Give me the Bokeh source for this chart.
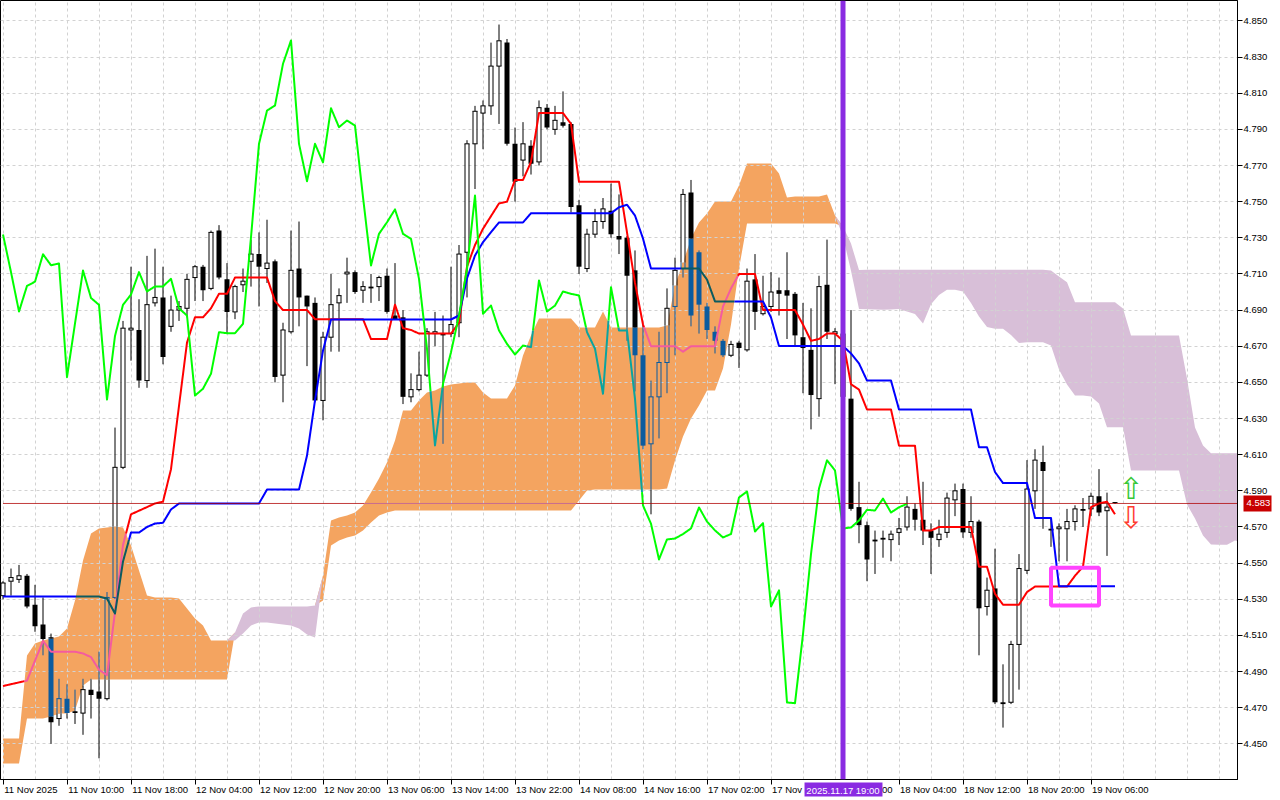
import numpy as np
from bokeh.plotting import figure
from bokeh.models import FixedTicker, NumeralTickFormatter, Range1d, Span, LinearAxis
from bokeh.embed import file_html
from bokeh.resources import INLINE
from bokeh.core.properties import value

# ---------------- data (H1 bars, index 0 = 11 Nov 2025 00:00) ----------------
time_labels = ["11 Nov 2025", "11 Nov 10:00", "11 Nov 18:00", "12 Nov 04:00", "12 Nov 12:00",
               "12 Nov 20:00", "13 Nov 06:00", "13 Nov 14:00", "13 Nov 22:00", "14 Nov 08:00",
               "14 Nov 16:00", "17 Nov 02:00", "17 Nov 10:00", "17 Nov 18:00", "18 Nov 04:00",
               "18 Nov 12:00", "18 Nov 20:00", "19 Nov 06:00"]
label_bars = [0, 8, 16, 24, 32, 40, 48, 56, 64, 72, 80, 88, 96, 104, 112, 120, 128, 136]
price_ticks = [4.45, 4.47, 4.49, 4.51, 4.53, 4.55, 4.57, 4.59, 4.61, 4.63, 4.65,
               4.67, 4.69, 4.71, 4.73, 4.75, 4.77, 4.79, 4.81, 4.83, 4.85]

open_ = [4.532, 4.540, 4.541, 4.543, 4.527, 4.516, 4.509, 4.464, 4.475, 4.468,
         4.467, 4.480, 4.479, 4.475, 4.531, 4.603, 4.679, 4.679, 4.651, 4.694,
         4.697, 4.681, 4.690, 4.691, 4.708, 4.714, 4.702, 4.734, 4.707, 4.689,
         4.704, 4.717, 4.721, 4.713, 4.717, 4.654, 4.678, 4.713, 4.698, 4.694,
         4.640, 4.675, 4.694, 4.710, 4.711, 4.701, 4.703, 4.703, 4.709, 4.687,
         4.686, 4.642, 4.646, 4.654, 4.677, 4.677, 4.677, 4.683, 4.722, 4.782,
         4.799, 4.803, 4.825, 4.838, 4.782, 4.773, 4.781, 4.772, 4.802, 4.790,
         4.794, 4.793, 4.748, 4.713, 4.732, 4.739, 4.745, 4.731, 4.730, 4.712,
         4.665, 4.616, 4.642, 4.661, 4.692, 4.713, 4.755, 4.722, 4.692, 4.678,
         4.673, 4.665, 4.672, 4.668, 4.707, 4.688, 4.692, 4.701, 4.701, 4.699,
         4.675, 4.668, 4.641, 4.704, 4.677, 4.677, 4.641, 4.581, 4.571, 4.563,
         4.564, 4.563, 4.567, 4.570, 4.580, 4.574, 4.568, 4.563, 4.567, 4.585,
         4.591, 4.567, 4.573, 4.526, 4.536, 4.473, 4.473, 4.505, 4.546, 4.590,
         4.606, 4.569, 4.569, 4.569, 4.573, 4.580, 4.580, 4.587, 4.579, 4.5835]
high = [4.540, 4.547, 4.549, 4.544, 4.538, 4.531, 4.511, 4.486, 4.483, 4.480,
        4.486, 4.486, 4.501, 4.534, 4.625, 4.684, 4.714, 4.696, 4.720, 4.724,
        4.714, 4.698, 4.695, 4.710, 4.715, 4.715, 4.734, 4.737, 4.716, 4.704,
        4.713, 4.729, 4.733, 4.740, 4.718, 4.683, 4.734, 4.739, 4.698, 4.697,
        4.678, 4.710, 4.702, 4.719, 4.712, 4.706, 4.710, 4.709, 4.713, 4.716,
        4.690, 4.655, 4.667, 4.680, 4.689, 4.687, 4.714, 4.726, 4.784, 4.803,
        4.806, 4.838, 4.848, 4.840, 4.791, 4.794, 4.784, 4.806, 4.804, 4.803,
        4.811, 4.794, 4.751, 4.735, 4.746, 4.752, 4.760, 4.754, 4.731, 4.723,
        4.682, 4.651, 4.678, 4.702, 4.719, 4.757, 4.762, 4.723, 4.694, 4.681,
        4.674, 4.673, 4.673, 4.713, 4.721, 4.709, 4.711, 4.708, 4.722, 4.700,
        4.694, 4.691, 4.709, 4.729, 4.680, 4.688, 4.690, 4.595, 4.573, 4.568,
        4.568, 4.568, 4.575, 4.587, 4.583, 4.595, 4.572, 4.574, 4.589, 4.594,
        4.594, 4.587, 4.574, 4.542, 4.558, 4.494, 4.507, 4.555, 4.607, 4.613,
        4.615, 4.575, 4.572, 4.580, 4.582, 4.586, 4.589, 4.602, 4.589, 4.5838]
low = [4.530, 4.532, 4.539, 4.525, 4.512, 4.499, 4.450, 4.460, 4.464, 4.461,
       4.455, 4.464, 4.442, 4.474, 4.530, 4.602, 4.662, 4.647, 4.647, 4.692,
       4.660, 4.678, 4.684, 4.686, 4.695, 4.695, 4.701, 4.707, 4.677, 4.685,
       4.700, 4.703, 4.692, 4.705, 4.650, 4.639, 4.677, 4.681, 4.659, 4.639,
       4.629, 4.667, 4.667, 4.694, 4.699, 4.694, 4.694, 4.695, 4.688, 4.685,
       4.638, 4.639, 4.645, 4.653, 4.670, 4.616, 4.675, 4.675, 4.697, 4.757,
       4.779, 4.798, 4.793, 4.781, 4.750, 4.764, 4.765, 4.770, 4.790, 4.787,
       4.791, 4.744, 4.710, 4.711, 4.730, 4.735, 4.730, 4.721, 4.673, 4.645,
       4.613, 4.577, 4.619, 4.644, 4.665, 4.708, 4.681, 4.677, 4.674, 4.666,
       4.664, 4.664, 4.658, 4.667, 4.679, 4.687, 4.689, 4.687, 4.674, 4.670,
       4.644, 4.624, 4.631, 4.674, 4.649, 4.640, 4.579, 4.561, 4.540, 4.544,
       4.553, 4.551, 4.560, 4.568, 4.568, 4.560, 4.544, 4.559, 4.564, 4.576,
       4.564, 4.564, 4.499, 4.521, 4.472, 4.459, 4.472, 4.480, 4.544, 4.580,
       4.569, 4.559, 4.551, 4.551, 4.568, 4.570, 4.576, 4.576, 4.554, 4.5828]
close = [4.539, 4.542, 4.543, 4.526, 4.515, 4.508, 4.462, 4.475, 4.467, 4.467,
         4.480, 4.477, 4.475, 4.531, 4.603, 4.680, 4.680, 4.651, 4.693, 4.697,
         4.664, 4.690, 4.692, 4.707, 4.714, 4.701, 4.733, 4.708, 4.689, 4.703,
         4.706, 4.721, 4.714, 4.716, 4.653, 4.679, 4.712, 4.697, 4.692, 4.640,
         4.675, 4.693, 4.698, 4.711, 4.700, 4.703, 4.702, 4.708, 4.689, 4.685,
         4.642, 4.646, 4.654, 4.678, 4.678, 4.676, 4.682, 4.721, 4.782, 4.800,
         4.803, 4.825, 4.839, 4.782, 4.761, 4.782, 4.771, 4.802, 4.791, 4.795,
         4.792, 4.747, 4.714, 4.732, 4.739, 4.746, 4.732, 4.729, 4.709, 4.665,
         4.615, 4.642, 4.661, 4.691, 4.712, 4.754, 4.687, 4.693, 4.679, 4.673,
         4.665, 4.671, 4.669, 4.706, 4.689, 4.692, 4.700, 4.699, 4.698, 4.676,
         4.669, 4.643, 4.703, 4.678, 4.678, 4.642, 4.580, 4.571, 4.552, 4.562,
         4.563, 4.566, 4.569, 4.581, 4.574, 4.568, 4.564, 4.566, 4.586, 4.590,
         4.567, 4.573, 4.525, 4.535, 4.473, 4.472, 4.505, 4.547, 4.591, 4.607,
         4.601, 4.568, 4.570, 4.573, 4.580, 4.579, 4.587, 4.578, 4.581, 4.583]

tenkan = [4.482, 4.483, 4.484, 4.485, 4.496, 4.507, 4.501, 4.501, 4.501, 4.501,
          4.500, 4.498, 4.491, 4.488, 4.523, 4.560, 4.577, 4.579, 4.581, 4.583,
          4.584, 4.602, 4.637, 4.672, 4.686, 4.686, 4.691, 4.699, 4.699, 4.708,
          4.708, 4.708, 4.708, 4.708, 4.695, 4.690, 4.690, 4.690, 4.690, 4.685,
          4.685, 4.685, 4.685, 4.685, 4.685, 4.685, 4.674, 4.674, 4.674, 4.693,
          4.680, 4.679, 4.677, 4.677, 4.677, 4.677, 4.677, 4.683, 4.714, 4.726,
          4.735, 4.742, 4.749, 4.750, 4.762, 4.762, 4.772, 4.799, 4.799, 4.799,
          4.799, 4.793, 4.761, 4.761, 4.761, 4.761, 4.761, 4.761, 4.733, 4.705,
          4.682, 4.670, 4.670, 4.670, 4.670, 4.667, 4.670, 4.670, 4.670, 4.670,
          4.692, 4.702, 4.710, 4.710, 4.710, 4.690, 4.690, 4.690, 4.690, 4.690,
          4.682, 4.673, 4.674, 4.677, 4.677, 4.673, 4.649, 4.646, 4.635, 4.635,
          4.635, 4.635, 4.615, 4.615, 4.615, 4.568, 4.568, 4.570, 4.570, 4.570,
          4.570, 4.570, 4.548, 4.548, 4.533, 4.527, 4.527, 4.527, 4.534, 4.537,
          4.537, 4.537, 4.537, 4.537, 4.543, 4.548, 4.581, 4.583, 4.584, 4.577]
kijun = ([4.5315] * 13 + [4.5304, 4.5221, 4.5509, 4.5669, 4.5669, 4.5700, 4.5719, 4.5723, 4.5797]
         + [4.5830] * 11 + [4.5907] * 5 + [4.6095, 4.6400, 4.6676] + [4.6848] * 16
         + [4.6870, 4.7075, 4.7202, 4.7276, 4.7331] + [4.7385] * 4 + [4.7436] * 11
         + [4.7469, 4.7483, 4.7423, 4.7296] + [4.7130] * 7 + [4.7069] + [4.6948] * 7
         + [4.6859] + [4.6701] * 9 + [4.6660, 4.6605] + [4.6510] * 4 + [4.6350] * 10
         + [4.6141] * 2 + [4.6004] + [4.5943] * 4 + [4.5750] * 3 + [4.5372] * 8)
chikou = [4.7318, 4.7110, 4.6892, 4.7034, 4.7057, 4.7209, 4.7148, 4.7158, 4.6529, 4.6826,
          4.7119, 4.6967, 4.6929, 4.6405, 4.6757, 4.6929, 4.6986, 4.7110, 4.7003, 4.7031,
          4.7031, 4.7073, 4.6909, 4.6870, 4.6427, 4.6465, 4.6548, 4.6778, 4.6772, 4.6772,
          4.6824, 4.7303, 4.7820, 4.8004, 4.8032, 4.8263, 4.8392, 4.7820, 4.7613, 4.7820,
          4.7717, 4.8017, 4.7912, 4.7949, 4.7921, 4.7525, 4.7147, 4.7322, 4.7386, 4.7457,
          4.7322, 4.7294, 4.7073, 4.6686, 4.6151, 4.6492, 4.6667, 4.6870, 4.7128, 4.7534,
          4.6880, 4.6925, 4.6787, 4.6713, 4.6654, 4.6704, 4.6695, 4.7064, 4.6892, 4.6925,
          4.7003, 4.6990, 4.6981, 4.6778, 4.6686, 4.6437, 4.7027, 4.6787, 4.6787, 4.6409,
          4.5819, 4.5718, 4.5520, 4.5631, 4.5636, 4.5661, 4.5692, 4.5808, 4.5730, 4.5681,
          4.5642, 4.5661, 4.5863, 4.5896, 4.5675, 4.5721, 4.5260, 4.5349, 4.4729, 4.4725,
          4.5107, 4.5550, 4.5913, 4.6069, 4.6013, 4.5692, 4.5697, 4.5736, 4.5795, 4.5791,
          4.5857, 4.5780, 4.5809, 4.5828]
span_a = ([4.4530] * 3 + [4.4989, 4.5055, 4.5072, 4.5083, 4.5094, 4.5138, 4.5293, 4.5515, 4.5664,
          4.5692, 4.5697, 4.5703, 4.5697, 4.5598, 4.5459, 4.5321, 4.5310, 4.5310, 4.5310, 4.5304,
          4.5249, 4.5194, 4.5155, 4.5072, 4.5072, 4.5072,
          4.5072, 4.5111, 4.5155, 4.5172, 4.5172, 4.5166, 4.5161, 4.5155, 4.5138, 4.5105, 4.5088,
          4.5432, 4.5736, 4.5752, 4.5763, 4.5780, 4.5819, 4.5891, 4.5968, 4.6057, 4.6179,
          4.6345, 4.6345, 4.6400, 4.6444, 4.6455, 4.6477, 4.6488, 4.6494, 4.6499, 4.6499,
          4.6444, 4.6411, 4.6411, 4.6411, 4.6483, 4.6649, 4.6760, 4.6854, 4.6854, 4.6854,
          4.6854, 4.6854, 4.6804, 4.6804, 4.6804, 4.6892, 4.6804, 4.6804, 4.6804, 4.6804,
          4.6804, 4.6804, 4.6804, 4.6815, 4.7036, 4.7163, 4.7296, 4.7385, 4.7434, 4.7501,
          4.7501, 4.7501, 4.7589, 4.7711, 4.7711, 4.7711, 4.7711, 4.7656, 4.7523, 4.7529,
          4.7529, 4.7529, 4.7529, 4.7540, 4.7423,
          4.7307, 4.7117, 4.6906, 4.6905, 4.6903, 4.6902, 4.6903, 4.6906, 4.6892, 4.6878,
          4.6826, 4.6932, 4.6984, 4.7012, 4.7012, 4.7003, 4.6939, 4.6865, 4.6807, 4.6797,
          4.6797, 4.6762, 4.6718, 4.6722, 4.6722, 4.6722, 4.6704, 4.6571, 4.6488, 4.6427,
          4.6427, 4.6422, 4.6383, 4.6252, 4.6252, 4.6252]
          + [4.6013] * 7 + [4.5824, 4.5747, 4.5653, 4.5603, 4.5601, 4.5601, 4.5625, 4.5614])
span_b = ([4.4391] * 3 + [4.4640, 4.4640, 4.4640, 4.4651, 4.4668, 4.4668, 4.4685, 4.4823]
          + [4.4856] * 18
          + [4.5116, 4.5221, 4.5255, 4.5260, 4.5260, 4.5260, 4.5260, 4.5260, 4.5260, 4.5260, 4.5266]
          + [4.5293, 4.5598, 4.5625, 4.5642, 4.5653, 4.5681, 4.5725, 4.5763, 4.5780]
          + [4.5791] * 23
          + [4.5847, 4.5902] + [4.5907] * 9
          + [4.5913, 4.6068, 4.6201, 4.6300, 4.6372, 4.6455, 4.6455, 4.6577, 4.6820, 4.7130]
          + [4.7379] * 12
          + [4.7363, 4.7268, 4.7122] + [4.7123] * 23 + [4.7119, 4.7086, 4.7054]
          + [4.6944] * 6 + [4.6909] + [4.6760] * 7 + [4.6522, 4.6250, 4.6151] + [4.6108] * 5)

last_price = 4.583
last_price_text = "4.583"
event_bar = 105
event_label = "2025.11.17 19:00"
box_left, box_right, box_top, box_bottom = 131, 137, 4.5475, 4.5266
arrow_bars = [141, 141]
arrow_prices = [4.5913, 4.5755]
arrow_glyphs = ["\u21e7", "\u21e9"]
arrow_colors = ["#37c837", "#ff3b2f"]

# ---------------- styling ----------------
CLOUD_UP = "#f4a460"
CLOUD_DN = "#d8bfd8"
INK = "black"
INK_IN = "#0b5b9f"
FONT = "Liberation Sans"
FSIZE = 9.5

FW, FH = 1237, 779
PX_PRICE = 0.4266 / 771          # price units per screen pixel
PX_BAR = 1 / 8.0                 # bars per screen pixel
X0 = -0.3125
X1 = X0 + FW * PX_BAR
Y1 = 4.8613
Y0 = Y1 - FH * PX_PRICE

p = figure(frame_width=FW, frame_height=FH, x_range=Range1d(X0, X1), y_range=Range1d(Y0, Y1),
           y_axis_location="right", output_backend="svg", toolbar_location=None,
           min_border_left=0, min_border_top=0, min_border_right=0, min_border_bottom=0,
           background_fill_color="white", border_fill_color="white")
p.outline_line_color = "black"

# price axis (right)
p.yaxis.ticker = FixedTicker(ticks=price_ticks)
p.yaxis.formatter = NumeralTickFormatter(format="0.000")
p.yaxis.major_label_text_font = FONT
p.yaxis.major_label_text_font_size = f"{FSIZE}px"
p.yaxis.major_label_text_color = "black"
p.yaxis.major_tick_out = 5
p.yaxis.major_tick_in = 0
p.yaxis.minor_tick_out = 0
p.yaxis.major_label_standoff = 1
p.yaxis.axis_line_color = "black"

# time axis (below): tick marks at the label bars, labels left-aligned after
# their tick (MT4 style) by centring each label half its width further right.
CHAR_EM = {" ": 0.278, ":": 0.278, ".": 0.278, "N": 0.722, "o": 0.556, "v": 0.5}


def text_px(s):
    return sum(CHAR_EM.get(ch, 0.556) for ch in s) * FSIZE


label_centres = []
overrides = {}
for b, t in zip(label_bars, time_labels):
    start = max(b, X0) + PX_BAR
    centre = round((start + text_px(t) / 2 * PX_BAR) * 64) / 64
    label_centres.append(centre)
    overrides[centre] = t

tag_w = text_px(event_label) + 4
tag_half = tag_w / 2 * PX_BAR
visible_tick_bars = [b for b in label_bars if abs(b - event_bar) > tag_half]

p.xaxis.ticker = FixedTicker(ticks=label_centres, minor_ticks=visible_tick_bars)
p.xaxis.major_label_overrides = overrides
p.xaxis.major_label_text_font = FONT
p.xaxis.major_label_text_font_size = f"{FSIZE}px"
p.xaxis.major_label_text_color = "black"
p.xaxis.major_label_standoff = -1
p.xaxis.major_tick_out = 0
p.xaxis.major_tick_in = 0
p.xaxis.minor_tick_out = 5
p.xaxis.minor_tick_in = 0
p.xaxis.axis_line_color = "black"

# event-time tag on the time scale: a wide purple tick at the event bar, white text
tag_axis = LinearAxis(ticker=FixedTicker(ticks=[event_bar], minor_ticks=[]),
                      major_label_overrides={event_bar: event_label},
                      axis_line_color=None,
                      major_tick_line_color="#8a2be2", major_tick_line_width=tag_w,
                      major_tick_in=15, major_tick_out=-1,
                      minor_tick_out=0, minor_tick_in=0,
                      major_label_standoff=-13, major_label_text_color="white",
                      major_label_text_font=FONT, major_label_text_font_size=f"{FSIZE}px")
p.add_layout(tag_axis, "below")

# last-price tag on the price scale: a wide red tick at the last price, white text
ptag_axis = LinearAxis(ticker=FixedTicker(ticks=[last_price], minor_ticks=[]),
                       major_label_overrides={last_price: last_price_text},
                       axis_line_color=None,
                       major_tick_line_color="#c80000", major_tick_line_width=16,
                       major_tick_in=27, major_tick_out=1,
                       minor_tick_out=0, minor_tick_in=0,
                       major_label_standoff=-25, major_label_text_color="white",
                       major_label_text_font=FONT, major_label_text_font_size=f"{FSIZE}px")
p.add_layout(ptag_axis, "right")

p.xgrid.ticker = FixedTicker(ticks=list(range(0, 156, 4)))
p.ygrid.ticker = FixedTicker(ticks=price_ticks)
for g in (p.xgrid, p.ygrid):
    g.grid_line_color = "#d2d2d2"
    g.grid_line_dash = "3 3"
    g.level = "underlay"

# ---------------- Ichimoku cloud ----------------
A = np.array(span_a, dtype=float)
B = np.array(span_b, dtype=float)
xc = np.arange(len(A), dtype=float)
top = np.maximum(A, B)
p.varea(x=xc, y1=B, y2=top, fill_color=CLOUD_UP, level="image")
p.varea(x=xc, y1=A, y2=top, fill_color=CLOUD_DN, level="image")


def in_up_cloud(xq, yq):
    a = np.interp(xq, xc, A)
    b = np.interp(xq, xc, B)
    return (a > b) & (yq >= b) & (yq <= a)


# ---------------- candles ----------------
seg = {"x0": [], "y0": [], "x1": [], "y1": [], "c": [], "w": []}


def add(x0, y0, x1, y1, c, w):
    seg["x0"].append(x0); seg["y0"].append(y0)
    seg["x1"].append(x1); seg["y1"].append(y1)
    seg["c"].append(c); seg["w"].append(w)


def pieces(lo, hi, i):
    if A[i] > B[i] and hi > B[i] and lo < A[i]:
        out = []
        if lo < B[i]:
            out.append((lo, B[i], False))
        out.append((max(lo, B[i]), min(hi, A[i]), True))
        if hi > A[i]:
            out.append((A[i], hi, False))
        return out
    return [(lo, hi, False)]


def inside_pt(i, y):
    return A[i] > B[i] and B[i] <= y <= A[i]


HB = 2.5 * PX_BAR   # half body
EO = 2.0 * PX_BAR   # outline offset
for i in range(len(open_)):
    o, h, l, c = open_[i], high[i], low[i], close[i]
    for a, b, ins in pieces(l, h, i):
        add(i, a, i, b, INK_IN if ins else INK, 1)
    if abs(c - o) < PX_PRICE:
        add(i - HB, o, i + HB, o, INK_IN if inside_pt(i, o) else INK, 1)
    elif c < o:
        for a, b, ins in pieces(c, o, i):
            add(i, a, i, b, INK_IN if ins else INK, 5)
    else:
        for a, b, ins in pieces(o, c, i):
            add(i, a, i, b, CLOUD_UP if ins else "white", 3)
        for dx in (-EO, EO):
            for a, b, ins in pieces(o, c, i):
                add(i + dx, a, i + dx, b, INK_IN if ins else INK, 1)
        for yy in (o, c):
            add(i - HB, yy, i + HB, yy, INK_IN if inside_pt(i, yy) else INK, 1)

p.segment(x0=seg["x0"], y0=seg["y0"], x1=seg["x1"], y1=seg["y1"],
          line_color=seg["c"], line_width=seg["w"])


# ---------------- indicator lines ----------------
def colour_runs(xs, ys, c_out, c_in, sub=16):
    xs = np.asarray(xs, float)
    ys = np.asarray(ys, float)
    t = np.linspace(0, 1, sub, endpoint=False)
    xd = np.concatenate([xs[k] + t * (xs[k + 1] - xs[k]) for k in range(len(xs) - 1)] + [xs[-1:]])
    yd = np.concatenate([ys[k] + t * (ys[k + 1] - ys[k]) for k in range(len(ys) - 1)] + [ys[-1:]])
    ins = in_up_cloud((xd[:-1] + xd[1:]) / 2, (yd[:-1] + yd[1:]) / 2)
    rx, ry, rc = [], [], []
    start = 0
    for j in range(1, len(ins) + 1):
        if j == len(ins) or ins[j] != ins[start]:
            rx.append(list(xd[start:j + 1]))
            ry.append(list(yd[start:j + 1]))
            rc.append(c_in if ins[start] else c_out)
            start = j
    return rx, ry, rc


def draw_line(xs, ys, c_out, c_in, w):
    rx, ry, rc = colour_runs(xs, ys, c_out, c_in)
    p.multi_line(xs=rx, ys=ry, line_color=rc, line_width=w, line_join="round")


draw_line(np.arange(len(tenkan)), tenkan, "#ff0000", "#f45b9f", 2)
draw_line(np.arange(len(kijun)), kijun, "#0000ff", "#0b5b60", 2)
draw_line(np.arange(len(chikou)), chikou, "#00ff00", "#0ba49f", 2)

# current price line
xs_line = np.arange(0, 156)
draw_line(xs_line, [last_price] * len(xs_line), "#b00000", "#bb5b9f", 1)

# vertical event line
p.add_layout(Span(location=event_bar, dimension="height", line_color="#8a2be2", line_width=5))

# highlight rectangle
p.quad(left=[box_left], right=[box_right], top=[box_top], bottom=[box_bottom],
       fill_color=None, line_color="#ff44ff", line_width=4)

# arrows
p.text(x=arrow_bars, y=arrow_prices, text=arrow_glyphs, text_color=arrow_colors,
       text_font=value("DejaVu Sans"), text_font_size="30px",
       text_align="center", text_baseline="middle")

open("out.html", "w").write(file_html(p, INLINE))
